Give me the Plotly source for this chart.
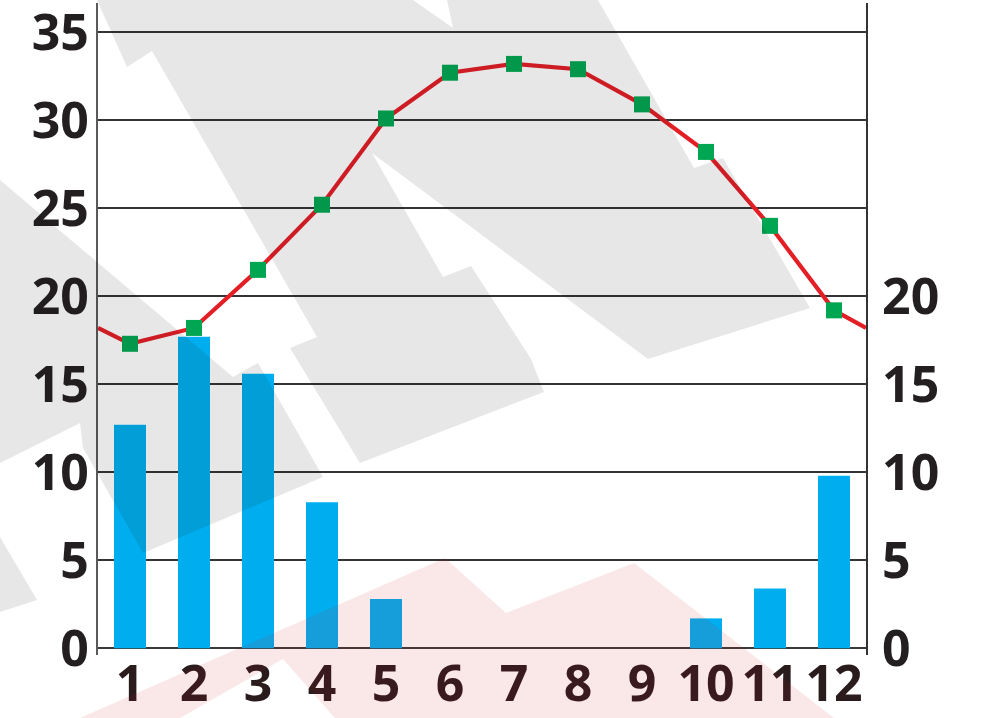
import plotly.graph_objects as go

# ---- data ----
months = [1, 2, 3, 4, 5, 6, 7, 8, 9, 10, 11, 12]
month_labels = ["1", "2", "3", "4", "5", "6", "7", "8", "9", "10", "11", "12"]
temperature = [17.3, 18.2, 21.5, 25.2, 30.1, 32.7, 33.2, 32.9, 30.9, 28.2, 24.0, 19.2]
# line continues to the plot edges (value read at the left / right border)
edge_x = [0.5, 12.5]
edge_temperature = [18.2, 18.2]
precipitation = [12.7, 17.7, 15.6, 8.3, 2.8, 0, 0, 0, 0, 1.7, 3.4, 9.8]
left_ticks = [0, 5, 10, 15, 20, 25, 30, 35]
right_ticks = [0, 5, 10, 15, 20]

# ---- layout geometry (pixels) ----
W, H = 982, 718
L, R, T, B = 98, 116, 3, 63
Y_RANGE = [-0.38, 36.66]

FONT = dict(family="Noto Sans", size=50, color="#231f20", weight="bold")

line_x = [edge_x[0]] + months + [edge_x[1]]
line_y = [edge_temperature[0]] + temperature + [edge_temperature[1]]

fig = go.Figure()
fig.add_trace(go.Bar(
    x=months, y=precipitation, width=0.5,
    marker=dict(color="#00aeef", line=dict(width=0)),
    yaxis="y", hoverinfo="skip", showlegend=False,
))
fig.add_trace(go.Scatter(
    x=line_x, y=line_y, mode="lines",
    line=dict(color="#e31e25", width=4.2),
    yaxis="y2", hoverinfo="skip", showlegend=False,
))
fig.add_trace(go.Scatter(
    x=months, y=temperature, mode="markers",
    marker=dict(symbol="square", size=16, color="#00a651",
                line=dict(width=0)),
    yaxis="y2", hoverinfo="skip", showlegend=False,
))

# ---- decorative watermark (background picture), pixel polygons ----
pw, ph = W - L - R, H - T - B


def to_path(polys):
    parts = []
    for poly in polys:
        pts = [((px - L) / pw, (H - B - py) / ph) for px, py in poly]
        parts.append("M " + " L ".join(f"{x:.4f},{y:.4f}" for x, y in pts) + " Z")
    return " ".join(parts)


gray_polys = [
    [(97, 0), (413, 0), (453, 28), (447, 0), (598, 0), (694, 168), (723, 158),
     (810, 308), (648, 359), (372, 153), (443, 277), (471, 266), (531, 359),
     (544, 392), (360, 463), (290, 348), (317, 337), (152, 51), (127, 67)],
    [(0, 180), (233, 377), (258, 363), (323, 477), (143, 553),
     (83, 448), (80, 423), (0, 463)],
    [(0, 537), (37, 600), (0, 612)],
]
pink_polys = [
    [(80, 718), (445, 558), (506, 613), (634, 563), (834, 718),
     (335, 718), (283, 659), (180, 718)],
]

shapes = []
for poly in gray_polys:
    shapes.append(dict(type="path", xref="paper", yref="paper",
                       path=to_path([poly]),
                       fillcolor="rgba(20,20,20,0.10)", line=dict(width=0),
                       layer="above"))
for poly in pink_polys:
    shapes.append(dict(type="path", xref="paper", yref="paper",
                       path=to_path([poly]),
                       fillcolor="rgba(207,19,25,0.10)", line=dict(width=0),
                       layer="above"))

fig.update_layout(
    width=W, height=H,
    margin=dict(l=L, r=R, t=T, b=B, pad=0, autoexpand=False),
    paper_bgcolor="white", plot_bgcolor="white",
    shapes=shapes,
    xaxis=dict(
        range=[0.5, 12.5], tickvals=months, ticktext=month_labels,
        showgrid=False, zeroline=False, showline=False, ticks="",
        tickfont=dict(FONT, color="#2a1c1d"), ticklabelstandoff=-5,
        fixedrange=True, automargin=False, ticklabeloverflow="allow",
    ),
    yaxis=dict(
        range=Y_RANGE, tickvals=left_ticks,
        showgrid=True, gridcolor="#333333", gridwidth=1.6,
        zeroline=True, zerolinecolor="#3a3a3a", zerolinewidth=2.2,
        showline=True, linecolor="#5a5a5a", linewidth=2.2,
        ticks="", tickfont=FONT, ticklabelstandoff=-3, fixedrange=True,
        automargin=False, ticklabeloverflow="allow",
    ),
    yaxis2=dict(
        range=Y_RANGE, tickvals=right_ticks, overlaying="y", side="right",
        showgrid=False, zeroline=False,
        showline=True, linecolor="#333333", linewidth=2.2,
        ticks="", tickfont=FONT, ticklabelstandoff=4, fixedrange=True,
        automargin=False, ticklabeloverflow="allow",
    ),
)

fig.write_html("out.html", config=dict(displayModeBar=False),
               post_script="document.body.style.margin='0';")
